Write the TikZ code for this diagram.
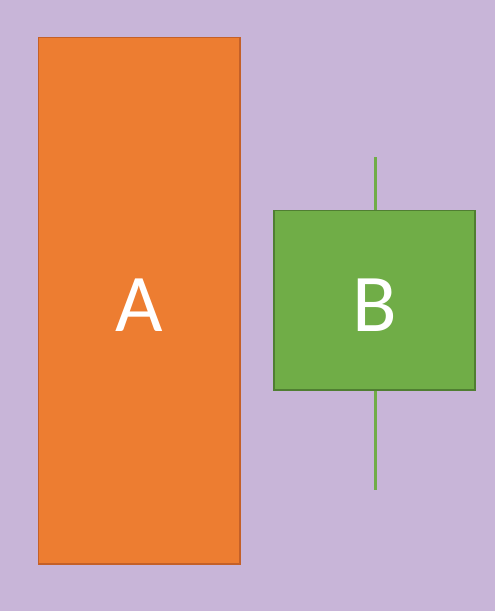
\documentclass[tikz,border=0pt]{standalone}
\usepackage{fontspec}
\setmainfont{Carlito}
\definecolor{bg}{RGB}{200,181,216}
\definecolor{org}{RGB}{237,125,49}
\definecolor{orgb}{RGB}{196,96,40}
\definecolor{grn}{RGB}{112,173,71}
\definecolor{grnb}{RGB}{80,126,50}
\tikzset{
  barA/.style={draw=orgb, fill=org, line width=1.2pt},
  barB/.style={draw=grnb, fill=grn, line width=1.2pt},
  wick/.style={draw=grn, line width=3pt},
  lbl/.style={text=white, font=\fontsize{82}{82}\selectfont}
}
\begin{document}
\begin{tikzpicture}[x=1pt,y=-1pt]
\fill[bg] (0,0) rectangle (495,611);
\useasboundingbox (0,0) rectangle (495,611);
\coordinate (wt) at (375.5,157);
\coordinate (wb) at (375.5,490);
\draw[wick] (wt) -- (wb);
\draw[barA] (38.5,37.5) rectangle (240,564) coordinate (Acorner);
\draw[barB] (274,210.5) rectangle (475,390);
\node[lbl] (A) at (139,305) {A};
\node[lbl] (B) at (375,305) {B};
\end{tikzpicture}
\end{document}
